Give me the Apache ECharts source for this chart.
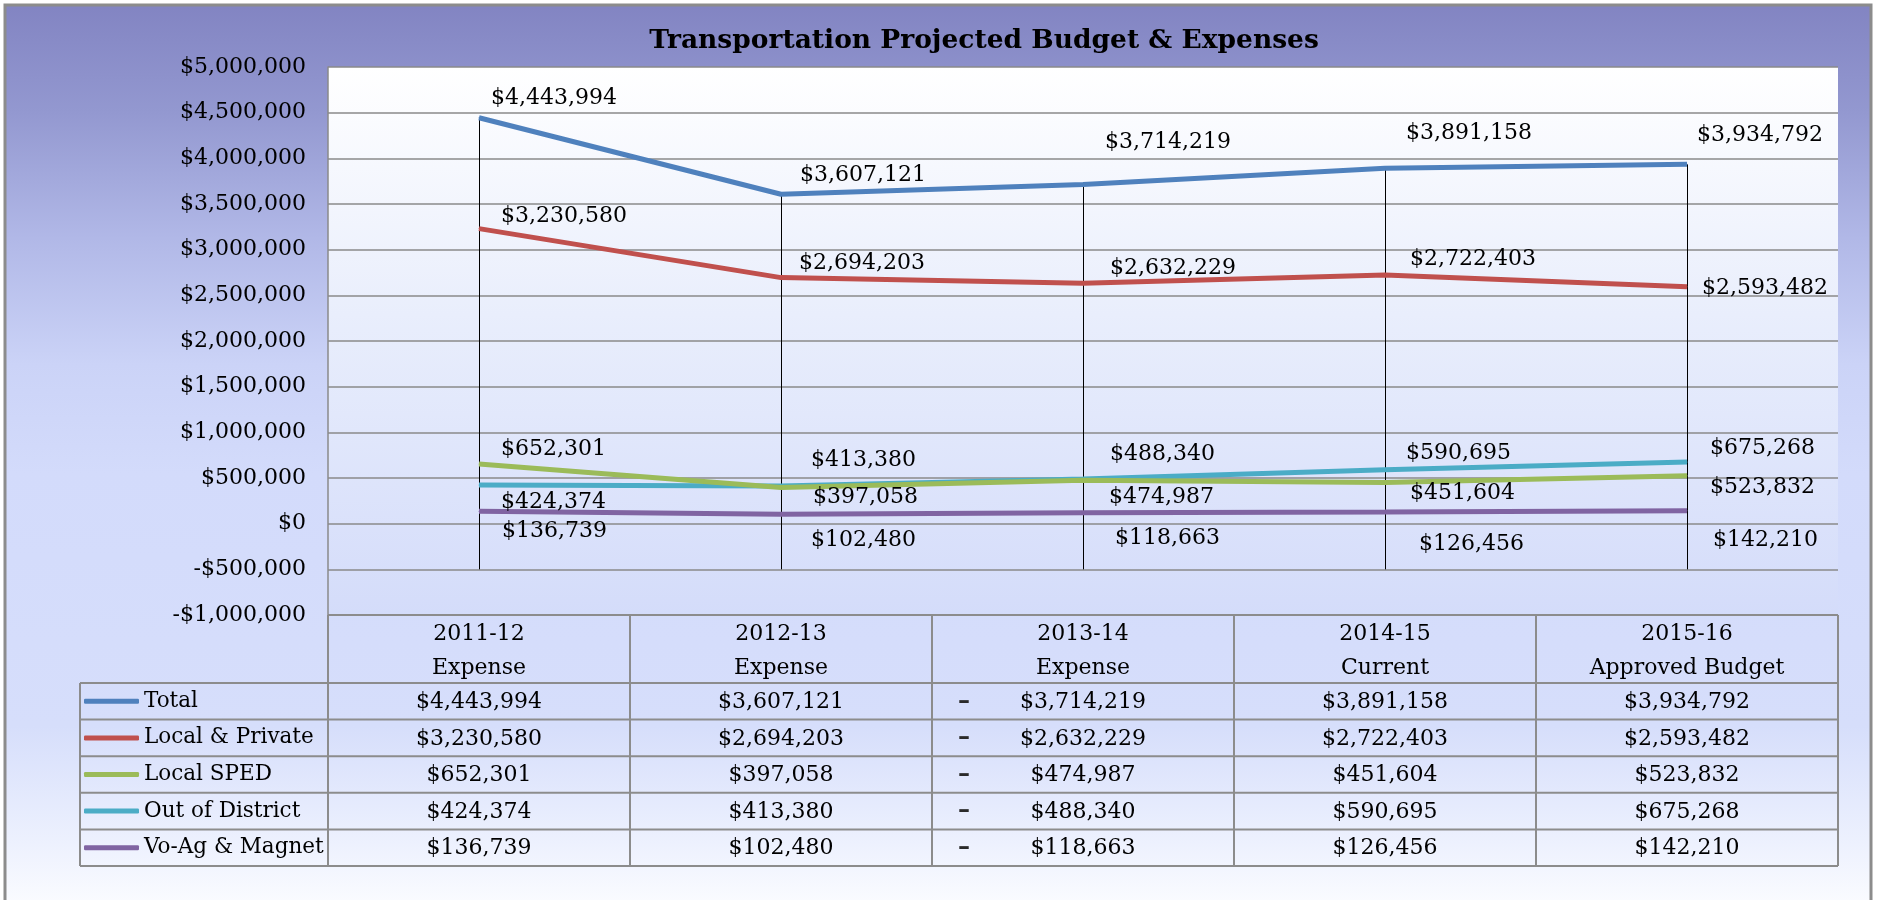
<!DOCTYPE html>
<html>
<head>
<meta charset="utf-8">
<script src="https://cdn.jsdelivr.net/npm/echarts@6/dist/echarts.min.js"></script>
<style>
  html, body { margin: 0; padding: 0; background: #ffffff; }
  #chart { width: 1877px; height: 900px; }
</style>
</head>
<body>
<div id="chart"></div>
<script>
// ---- data ----
const years = ['2011-12', '2012-13', '2013-14', '2014-15', '2015-16'];
const stages = ['Expense', 'Expense', 'Expense', 'Current', 'Approved Budget'];
const seriesNames = ['Total', 'Local & Private', 'Local SPED', 'Out of District', 'Vo-Ag & Magnet'];
const total = [4443994, 3607121, 3714219, 3891158, 3934792];
const localPrivate = [3230580, 2694203, 2632229, 2722403, 2593482];
const localSped = [652301, 397058, 474987, 451604, 523832];
const outOfDistrict = [424374, 413380, 488340, 590695, 675268];
const voAgMagnet = [136739, 102480, 118663, 126456, 142210];
const yMin = -1000000;
const yMax = 5000000;
const yStep = 500000;
const dropFloor = -500000;

// ---- style ----
const FONT = "'DejaVu Serif', serif";
const FS = 22;
const colors = ['#4f81bd', '#c0504d', '#9bbb59', '#4bacc6', '#8064a2'];
const seriesValues = [total, localPrivate, localSped, outOfDistrict, voAgMagnet];
// label placement: [dx from point to text start, dy from point to text middle]
const labelOffsets = [
  [[12, -20], [19, -19], [22, -42], [21, -35], [10, -29]],
  [[22, -12], [18, -14], [27, -15], [25, -16], [15, 1]],
  [[22, -15], [32, 10], [26, 17], [25, 11], [23, 11]],
  [[22, 17], [30, -26], [27, -25], [21, -16], [23, -14]],
  [[23, 20], [30, 26], [32, 25], [34, 32], [26, 30]]
];

const money = v => (v < 0 ? '-$' : '$') + Math.abs(v).toLocaleString('en-US');

const GRID = { left: 328, top: 67, right: 1838, bottom: 615 };
const TABLE = { legendLeft: 80, headTop: 615, bodyTop: 683, rowH: 36.6, border: '#8c8c8c' };

const chart = echarts.init(document.getElementById('chart'), null, { renderer: 'canvas' });

const lineSeries = seriesNames.map((name, s) => ({
  name,
  type: 'line',
  data: seriesValues[s].map((v, i) => ({
    value: v,
    label: { offset: [labelOffsets[s][i][0], labelOffsets[s][i][1]] }
  })),
  symbol: 'circle',
  symbolSize: 1,
  showSymbol: true,
  lineStyle: { color: colors[s], width: 5 },
  itemStyle: { color: colors[s] },
  label: {
    show: true,
    position: 'inside',
    align: 'left',
    verticalAlign: 'middle',
    formatter: p => money(p.value),
    fontFamily: FONT,
    fontSize: FS,
    color: '#000'
  },
  emphasis: { disabled: true },
  z: 5 + (seriesNames.length - s)
}));

// drop lines from the highest value of each category down to the floor
const dropData = years.map((y, i) => [i, Math.max(...seriesValues.map(a => a[i]))]);

const option = {
  animation: false,
  backgroundColor: '#ffffff',
  title: {
    text: 'Transportation Projected Budget & Expenses',
    left: 979,
    top: 23,
    textAlign: 'center',
    textStyle: { fontFamily: FONT, fontSize: 26.5, fontWeight: 'bold', color: '#000' }
  },
  legend: {
    data: seriesNames,
    orient: 'vertical',
    left: 84,
    top: TABLE.bodyTop,
    padding: 0,
    itemGap: 0,
    itemWidth: 55,
    itemHeight: 5,
    icon: 'roundRect',
    selectedMode: false,
    textStyle: { fontFamily: FONT, fontSize: 21.5, color: '#000', lineHeight: TABLE.rowH }
  },
  grid: {
    left: GRID.left,
    top: GRID.top,
    width: GRID.right - GRID.left,
    height: GRID.bottom - GRID.top,
    show: true,
    borderWidth: 0,
    backgroundColor: {
      type: 'linear', x: 0, y: 0, x2: 0, y2: 1,
      colorStops: [
        { offset: 0, color: '#ffffff' },
        { offset: 0.45, color: '#e9eefc' },
        { offset: 1, color: '#d4dcfa' }
      ]
    }
  },
  xAxis: {
    type: 'category',
    data: years.map((y, i) => y + '\n' + stages[i]),
    boundaryGap: true,
    axisLine: { show: false },
    axisTick: { show: false },
    splitLine: { show: false },
    axisLabel: {
      margin: 2,
      lineHeight: 34,
      fontFamily: FONT,
      fontSize: FS,
      color: '#000',
      interval: 0
    }
  },
  yAxis: {
    type: 'value',
    min: yMin,
    max: yMax,
    interval: yStep,
    axisLine: { show: true, lineStyle: { color: '#8a8a8a', width: 1.5 } },
    axisTick: { show: false },
    splitLine: { show: true, lineStyle: { color: '#8a8a8a', width: 1.5 } },
    axisLabel: {
      margin: 22,
      fontFamily: FONT,
      fontSize: FS,
      color: '#000',
      formatter: v => money(v)
    }
  },
  series: [
    {
      name: 'drop',
      type: 'custom',
      data: dropData,
      silent: true,
      z: 3,
      renderItem: (params, api) => {
        const top = api.coord([api.value(0), api.value(1)]);
        const bot = api.coord([api.value(0), dropFloor]);
        return {
          type: 'line',
          shape: { x1: Math.round(top[0]) + 0.5, y1: top[1], x2: Math.round(bot[0]) + 0.5, y2: bot[1] },
          style: { stroke: '#000', lineWidth: 1 }
        };
      }
    },
    ...lineSeries
  ]
};

chart.setOption(option);

// ---- data table below the plot, columns aligned with the category axis ----
function buildTable() {
  const centers = years.map((y, i) => chart.convertToPixel({ xAxisIndex: 0 }, i));
  const band = centers.length > 1 ? centers[1] - centers[0] : (GRID.right - GRID.left);
  const colEdges = [centers[0] - band / 2, ...centers.map(c => c + band / 2)];
  const nRows = seriesNames.length;
  const bottom = TABLE.bodyTop + nRows * TABLE.rowH;
  const els = [];
  const stroke = { stroke: TABLE.border, lineWidth: 2 };

  // frame background
  els.push({
    type: 'rect', z: -100,
    shape: { x: 5, y: 5, width: 1866, height: 900 },
    style: {
      fill: new echarts.graphic.LinearGradient(0, 0, 0, 1, [
        { offset: 0, color: '#8284c2' },
        { offset: 0.12, color: '#9398d0' },
        { offset: 0.26, color: '#b1b8e7' },
        { offset: 0.4, color: '#cbd3f7' },
        { offset: 0.52, color: '#d3dbfb' },
        { offset: 0.8, color: '#d6defb' },
        { offset: 0.93, color: '#edf1fe' },
        { offset: 1, color: '#fbfcff' }
      ]),
      stroke: '#8c8c8c', lineWidth: 3
    }
  });

  // header row lines
  els.push({ type: 'line', shape: { x1: colEdges[0], y1: TABLE.headTop, x2: colEdges[colEdges.length - 1], y2: TABLE.headTop }, style: stroke });
  // row lines
  for (let r = 0; r <= nRows; r++) {
    const y = TABLE.bodyTop + r * TABLE.rowH;
    els.push({ type: 'line', shape: { x1: TABLE.legendLeft, y1: y, x2: colEdges[colEdges.length - 1], y2: y }, style: stroke });
  }
  // vertical lines
  els.push({ type: 'line', shape: { x1: TABLE.legendLeft, y1: TABLE.bodyTop, x2: TABLE.legendLeft, y2: bottom }, style: stroke });
  colEdges.forEach(x => {
    els.push({ type: 'line', shape: { x1: x, y1: TABLE.headTop, x2: x, y2: bottom }, style: stroke });
  });

  // cell values
  seriesValues.forEach((arr, r) => {
    const cy = TABLE.bodyTop + (r + 0.5) * TABLE.rowH;
    arr.forEach((v, c) => {
      els.push({
        type: 'text', z: 10,
        style: {
          x: centers[c], y: cy + 1, text: money(v),
          fill: '#000', font: FS + 'px ' + FONT,
          align: 'center', verticalAlign: 'middle'
        }
      });
    });
    // short dash mark at the left of the 2013-14 cells
    els.push({
      type: 'text', z: 10,
      style: {
        x: colEdges[2] + 26, y: cy, text: '–',
        fill: '#2a2a2a', font: 'bold 24px ' + FONT,
        align: 'left', verticalAlign: 'middle'
      }
    });
  });

  chart.setOption({ graphic: { elements: els } });
}
buildTable();
</script>
</body>
</html>
